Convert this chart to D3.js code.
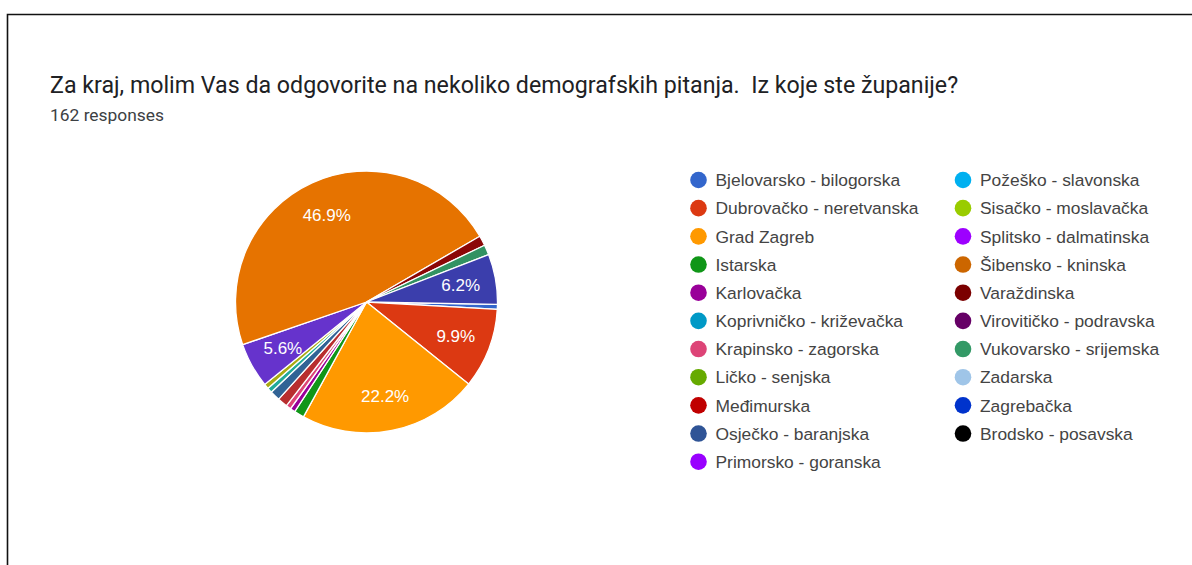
<!DOCTYPE html>
<html>
<head>
<meta charset="utf-8">
<script src="https://cdn.jsdelivr.net/npm/d3@7"></script>
<style>
  body { margin: 0; background: #fff; }
  svg { display: block; }
</style>
</head>
<body>
<svg id="chart" width="1192" height="565"></svg>
<script>
// counties in the order the form lists them
var counties = [
  "Bjelovarsko - bilogorska", "Dubrovačko - neretvanska", "Grad Zagreb", "Istarska",
  "Karlovačka", "Koprivničko - križevačka", "Krapinsko - zagorska", "Ličko - senjska",
  "Međimurska", "Osječko - baranjska", "Primorsko - goranska", "Požeško - slavonska",
  "Sisačko - moslavačka", "Splitsko - dalmatinska", "Šibensko - kninska", "Varaždinska",
  "Virovitičko - podravska", "Vukovarsko - srijemska", "Zadarska", "Zagrebačka",
  "Brodsko - posavska"
];

// number of responses per county (162 total)
var counts = [1, 16, 36, 2, 1, 0, 1, 0, 2, 2, 0, 1, 1, 9, 76, 2, 0, 2, 0, 10, 0];

// slice colours (classic google chart palette)
var pieColors = [
  "#3366cc", "#dc3912", "#ff9900", "#109618", "#990099", "#0099c6", "#dd4477",
  "#66aa00", "#b82e2e", "#316395", "#994499", "#22aa99", "#aaaa11", "#6633cc",
  "#e67300", "#8b0707", "#651067", "#329262", "#5574a6", "#3b3eac", "#b77322"
];

// legend dot colours as they appear in the legend
var legendColors = [
  "#3366cc", "#dc3912", "#ff9900", "#109618", "#990099", "#0099c6", "#dd4477",
  "#66aa00", "#c00000", "#2f5496", "#9900ff", "#00b0f0", "#99cc00", "#9d00ff",
  "#cc6600", "#7b0000", "#660066", "#339966", "#9fc5e8", "#0033cc", "#000000"
];

var title = "Za kraj, molim Vas da odgovorite na nekoliko demografskih pitanja.\u00a0 Iz koje ste županije?";
var subtitle = "162 responses";

var svg = d3.select("#chart");

// card border (only top and left visible in the crop)
svg.append("path")
    .attr("d", "M7.5,565 V14.5 H1192")
    .attr("fill", "none")
    .attr("stroke", "#111")
    .attr("stroke-width", 1.6);

svg.append("text")
    .attr("x", 50)
    .attr("y", 93)
    .style("font-family", "Roboto, 'Noto Sans', sans-serif")
    .style("font-size", "23.2px")
    .style("fill", "#202124")
    .text(title);

svg.append("text")
    .attr("x", 50)
    .attr("y", 121)
    .style("font-family", "Roboto, 'Noto Sans', sans-serif")
    .style("font-size", "17.4px")
    .style("fill", "#3c4043")
    .text(subtitle);

// ****************** pie section ***************************

var total = d3.sum(counts);
var radius = 131;
var cx = 366.5, cy = 302;

var pie = d3.pie()
    .sort(null)
    .value(function(d) { return d; })
    .startAngle(91 * Math.PI / 180)
    .endAngle((91 + 360) * Math.PI / 180);

var arcs = pie(counts);

var arc = d3.arc().innerRadius(0).outerRadius(radius);
var labelArc = d3.arc().innerRadius(radius * 0.73).outerRadius(radius * 0.73);

var g = svg.append("g")
    .attr("transform", "translate(" + cx + "," + cy + ")");

g.selectAll("path.slice")
    .data(arcs.filter(function(d) { return d.value > 0; }))
    .enter().append("path")
    .attr("class", "slice")
    .attr("d", arc)
    .attr("fill", function(d) { return pieColors[d.index]; })
    .attr("stroke", "#fff")
    .attr("stroke-width", 1.3);

// only slices of 5% and more get a label
g.selectAll("text.pct")
    .data(arcs.filter(function(d) { return d.value / total >= 0.05; }))
    .enter().append("text")
    .attr("class", "pct")
    .attr("transform", function(d) { return "translate(" + labelArc.centroid(d) + ")"; })
    .attr("text-anchor", "middle")
    .attr("dy", "0.35em")
    .style("font-family", "Arial, 'Liberation Sans', sans-serif")
    .style("font-size", "17px")
    .style("fill", "#fff")
    .text(function(d) { return (d.value / total * 100).toFixed(1) + "%"; });

// ****************** legend section ***************************

var perColumn = 11;
var rowY = d3.scaleLinear().domain([0, 10]).range([180, 461.7]);
var colX = d3.scaleOrdinal().domain([0, 1]).range([698.5, 963]);

var legend = svg.selectAll("g.legend")
    .data(counties)
    .enter().append("g")
    .attr("class", "legend")
    .attr("transform", function(d, i) {
      var col = Math.floor(i / perColumn), row = i % perColumn;
      return "translate(" + colX(col) + "," + rowY(row) + ")";
    });

legend.append("circle")
    .attr("r", 8.3)
    .attr("fill", function(d, i) { return legendColors[i]; });

legend.append("text")
    .attr("x", 17)
    .attr("dy", "0.36em")
    .style("font-family", "Arial, 'Liberation Sans', sans-serif")
    .style("font-size", "17.4px")
    .style("fill", "#444")
    .text(function(d) { return d; });
</script>
</body>
</html>
